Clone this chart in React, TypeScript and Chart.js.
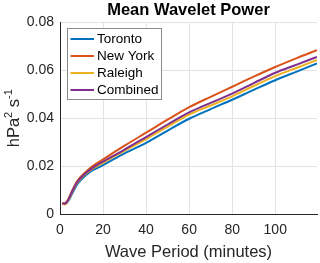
import React, { useEffect, useRef } from "react";
import { Chart, registerables } from "chart.js";

Chart.register(...registerables);

const periods = [1, 2, 3, 4, 5, 6, 7, 8, 10, 12, 15, 20, 25, 30, 40, 50, 60, 70, 80, 90, 100, 110, 119.4];
const toronto = [0.0046, 0.0044, 0.0047, 0.0058, 0.0075, 0.0093, 0.011, 0.0125, 0.0146, 0.0163, 0.0183, 0.0205, 0.023, 0.0254, 0.0298, 0.0349, 0.0398, 0.0438, 0.0477, 0.0518, 0.0558, 0.0594, 0.0628];
const newYork = [0.0048, 0.0046, 0.0052, 0.0066, 0.0086, 0.0106, 0.0124, 0.0139, 0.016, 0.0177, 0.02, 0.0229, 0.0258, 0.0286, 0.034, 0.0394, 0.0446, 0.0489, 0.0531, 0.0573, 0.0613, 0.065, 0.0683];
const raleigh = [0.0044, 0.0042, 0.0047, 0.0061, 0.008, 0.0099, 0.0117, 0.0132, 0.0152, 0.0169, 0.0189, 0.0215, 0.024, 0.0265, 0.0313, 0.0365, 0.0415, 0.0453, 0.0491, 0.0534, 0.0575, 0.061, 0.0642];
const combined = [0.0047, 0.0045, 0.005, 0.0064, 0.0083, 0.0102, 0.012, 0.0135, 0.0155, 0.0172, 0.0193, 0.022, 0.0245, 0.027, 0.0322, 0.0374, 0.0424, 0.0464, 0.0502, 0.0546, 0.0589, 0.0623, 0.0655];

const seriesNames = ["Toronto", "New York", "Raleigh", "Combined"];
const seriesColors = ["#0072BD", "#D95319", "#EDB120", "#7E2F8E"];
const xTicks = [0, 20, 40, 60, 80, 100];
const yTicks = [0, 0.02, 0.04, 0.06, 0.08];
const xMax = 119.4;
const yMax = 0.08;

const titleText = "Mean Wavelet Power";
const xTitle = "Wave Period (minutes)";

const FONT = "'Liberation Sans', Arial, Helvetica, sans-serif";
const TEXT = "#262626";

const textPlugin = {
  id: "textPlugin",
  afterDraw(chart: any) {
    const ctx = chart.ctx as CanvasRenderingContext2D;
    const area = chart.chartArea;
    const cx = (area.left + area.right) / 2;
    ctx.save();
    ctx.fillStyle = "#000";
    ctx.textAlign = "center";
    ctx.textBaseline = "middle";
    ctx.font = `bold 16.5px ${FONT}`;
    ctx.fillText(titleText, cx, 10);

    ctx.fillStyle = TEXT;
    ctx.font = `16.5px ${FONT}`;
    ctx.fillText(xTitle, cx, 252);

    // y title with superscripts
    const parts: [string, number, number][] = [
      ["hPa", 16.5, 0],
      ["2", 11, -7],
      [" s", 16.5, 0],
      ["-1", 11, -7],
    ];
    let total = 0;
    for (const [t, s] of parts) {
      ctx.font = `${s}px ${FONT}`;
      total += ctx.measureText(t).width;
    }
    ctx.translate(19, (area.top + area.bottom) / 2);
    ctx.rotate(-Math.PI / 2);
    ctx.textAlign = "left";
    ctx.textBaseline = "alphabetic";
    let x = -total / 2;
    for (const [t, s, dy] of parts) {
      ctx.font = `${s}px ${FONT}`;
      ctx.fillText(t, x, dy);
      x += ctx.measureText(t).width;
    }
    ctx.restore();

    // legend
    ctx.save();
    const bx = 67.5, by = 28.5, bw = 94, bh = 71;
    ctx.fillStyle = "#fff";
    ctx.fillRect(bx, by, bw, bh);
    ctx.strokeStyle = "#8c8c8c";
    ctx.lineWidth = 1;
    ctx.strokeRect(bx, by, bw, bh);
    ctx.font = `13.5px ${FONT}`;
    ctx.textBaseline = "middle";
    ctx.textAlign = "left";
    seriesNames.forEach((name, i) => {
      const y = 39 + i * 17;
      ctx.strokeStyle = seriesColors[i];
      ctx.lineWidth = 2;
      ctx.beginPath();
      ctx.moveTo(70.5, y);
      ctx.lineTo(94, y);
      ctx.stroke();
      ctx.fillStyle = "#000";
      ctx.fillText(name, 97, y);
    });
    ctx.restore();
  },
};

export default function App() {
  const ref = useRef<HTMLCanvasElement>(null);
  useEffect(() => {
    document.body.style.margin = "0";
    const all = [toronto, newYork, raleigh, combined];
    const chart = new Chart(ref.current!, {
      type: "line",
      data: {
        datasets: all.map((vals, i) => ({
          label: seriesNames[i],
          data: periods.map((p, j) => ({ x: p, y: vals[j] })),
          borderColor: seriesColors[i],
          backgroundColor: seriesColors[i],
          borderWidth: 2,
          pointRadius: 0,
          cubicInterpolationMode: "monotone" as const,
          order: 3 - i,
        })),
      },
      options: {
        animation: false,
        responsive: false,
        devicePixelRatio: 1,
        layout: { padding: { top: 22, right: 3, left: 0, bottom: 0 } },
        plugins: {
          legend: { display: false },
          title: { display: false },
          tooltip: { enabled: false },
        },
        scales: {
          x: {
            type: "linear",
            min: 0,
            max: xMax,
            afterFit: (s: any) => {
              s.height = 48.5;
            },
            afterBuildTicks: (s: any) => {
              s.ticks = xTicks.map((v) => ({ value: v }));
            },
            ticks: {
              color: TEXT,
              font: { size: 14, family: FONT },
              padding: 7,
              maxRotation: 0,
              callback: (v: any) => String(v),
            },
            grid: { color: "#e3e3e3", drawTicks: false },
            border: { color: "#262626", width: 1 },
          },
          y: {
            type: "linear",
            min: 0,
            max: yMax,
            afterFit: (s: any) => {
              s.width = 60;
            },
            afterBuildTicks: (s: any) => {
              s.ticks = yTicks.map((v) => ({ value: v }));
            },
            ticks: {
              color: TEXT,
              font: { size: 14, family: FONT },
              padding: 6,
              callback: (v: any) => (v === 0 ? "0" : Number(v).toFixed(2)),
            },
            grid: { color: "#e3e3e3", drawTicks: false },
            border: { color: "#262626", width: 1 },
          },
        },
      },
      plugins: [textPlugin],
    });
    return () => chart.destroy();
  }, []);
  return <canvas ref={ref} width={320} height={263} style={{ display: "block" }} />;
}
